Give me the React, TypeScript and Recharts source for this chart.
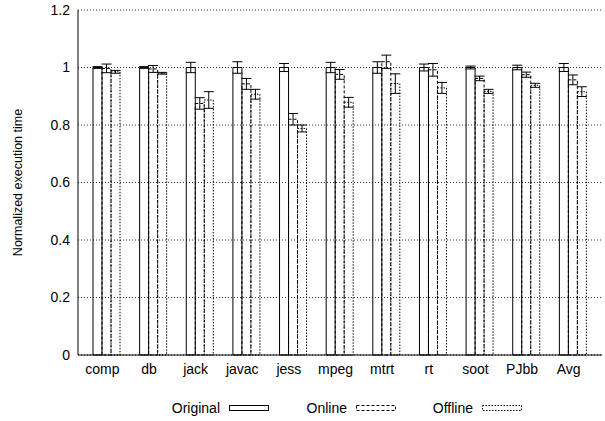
import React from "react";
import {
  BarChart,
  Bar,
  XAxis,
  YAxis,
  CartesianGrid,
  ErrorBar,
  Label,
} from "recharts";

// Benchmarks and normalized execution times (Original = 1)
const categories = ["comp", "db", "jack", "javac", "jess", "mpeg", "mtrt", "rt", "soot", "PJbb", "Avg"];
const original = [1, 1, 1, 1, 1, 1, 1, 1, 1, 1, 1];
const originalErr = [0.003, 0.003, 0.018, 0.02, 0.014, 0.018, 0.02, 0.012, 0.005, 0.008, 0.014];
const online = [0.997, 0.995, 0.875, 0.943, 0.82, 0.976, 1.02, 0.992, 0.962, 0.975, 0.957];
const onlineErr = [0.015, 0.012, 0.02, 0.019, 0.02, 0.017, 0.023, 0.022, 0.008, 0.009, 0.017];
const offline = [0.985, 0.98, 0.887, 0.907, 0.788, 0.879, 0.944, 0.929, 0.917, 0.938, 0.916];
const offlineErr = [0.005, 0.003, 0.029, 0.017, 0.012, 0.017, 0.034, 0.019, 0.007, 0.007, 0.017];
const yTicks = [0, 0.2, 0.4, 0.6, 0.8, 1, 1.2];

const FONT = '"Liberation Sans", Arial, Helvetica, sans-serif';
const ONLINE_DASH = "3 2";
const OFFLINE_DASH = "1.5 1.5";

const data = categories.map((name, i) => ({
  name,
  original: original[i],
  originalErr: originalErr[i],
  online: online[i],
  onlineErr: onlineErr[i],
  offline: offline[i],
  offlineErr: offlineErr[i],
}));

// x labels sit a little left of the bar group centre, like gnuplot
function XTick(props: any) {
  const { x, y, payload } = props;
  return (
    <text x={x - 4} y={y} dy={17} textAnchor="middle" fontSize={14} fill="#000" fontFamily={FONT}>
      {payload.value}
    </text>
  );
}

function LegendItem({ label, dash, width }: { label: string; dash?: string; width: number }) {
  return (
    <div style={{ display: "flex", alignItems: "center", width }}>
      <span style={{ flex: 1, textAlign: "right", marginRight: 9 }}>{label}</span>
      <svg width={41} height={7}>
        <rect x={0.5} y={0.5} width={39} height={5} fill="none" stroke="#000" strokeDasharray={dash} />
      </svg>
    </div>
  );
}

export default function App() {
  return (
    <div style={{ position: "absolute", left: 0, top: 0, width: 605, height: 421, background: "#fff", fontFamily: FONT }}>
      <BarChart
        width={605}
        height={421}
        data={data}
        margin={{ top: 10, right: 3, bottom: 36, left: 8 }}
        barSize={9}
        barGap={0}
      >
        <CartesianGrid vertical={false} stroke="#333" strokeDasharray="1 2" />
        <XAxis
          dataKey="name"
          height={30}
          padding={{ left: 5, right: 6 }}
          tickLine={false}
          tickSize={0}
          axisLine={{ stroke: "#000" }}
          tick={<XTick />}
          interval={0}
        />
        <XAxis xAxisId="top" orientation="top" dataKey="name" height={0} tick={false} tickLine={false} axisLine={{ stroke: "#000" }} />
        <YAxis
          width={70}
          domain={[0, 1.2]}
          ticks={yTicks}
          tickLine={false}
          tickSize={0}
          tickMargin={8}
          axisLine={{ stroke: "#000" }}
          tick={{ fontSize: 14, fill: "#000", fontFamily: FONT }}
        >
          <Label
            content={({ viewBox }: any) => (
              <text
                transform={`translate(${viewBox.x + 10}, ${viewBox.y + viewBox.height / 2}) rotate(-90)`}
                textAnchor="middle"
                dominantBaseline="central"
                fontSize={12.5}
                fill="#000"
                fontFamily={FONT}
              >
                Normalized execution time
              </text>
            )}
          />
        </YAxis>
        <YAxis yAxisId="right" orientation="right" width={0} domain={[0, 1.2]} tick={false} tickLine={false} axisLine={{ stroke: "#000" }} />
        <Bar dataKey="original" fill="none" stroke="#000" strokeWidth={1} isAnimationActive={false}>
          <ErrorBar dataKey="originalErr" width={5} stroke="#000" strokeWidth={1} direction="y" />
        </Bar>
        <Bar dataKey="online" fill="none" stroke="#000" strokeWidth={1} strokeDasharray={ONLINE_DASH} isAnimationActive={false}>
          <ErrorBar dataKey="onlineErr" width={5} stroke="#000" strokeWidth={1} direction="y" />
        </Bar>
        <Bar dataKey="offline" fill="none" stroke="#000" strokeWidth={1} strokeDasharray={OFFLINE_DASH} isAnimationActive={false}>
          <ErrorBar dataKey="offlineErr" width={5} stroke="#000" strokeWidth={1} direction="y" />
        </Bar>
      </BarChart>
      <div
        style={{
          position: "absolute",
          left: 150,
          top: 400,
          display: "flex",
          fontSize: 14,
          color: "#000",
          lineHeight: "16px",
        }}
      >
        <LegendItem label="Original" width={120} />
        <LegendItem label="Online" width={127} dash={ONLINE_DASH} />
        <LegendItem label="Offline" width={126} dash={OFFLINE_DASH} />
      </div>
    </div>
  );
}
